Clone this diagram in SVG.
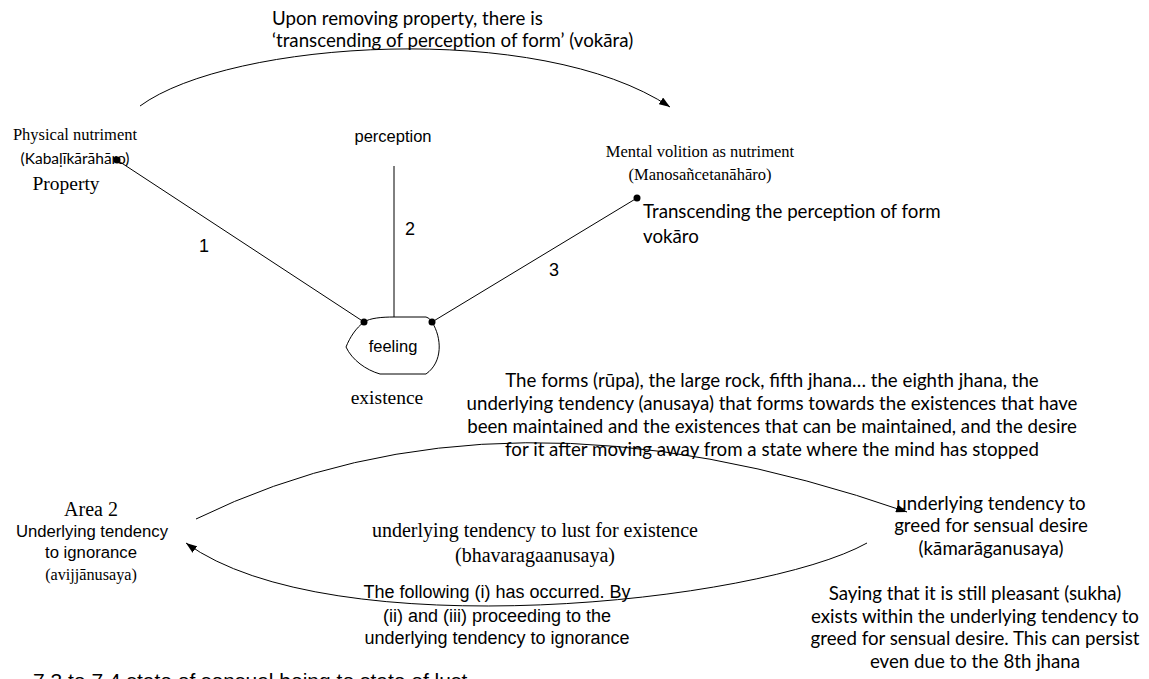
<svg xmlns="http://www.w3.org/2000/svg" width="1149" height="679" viewBox="0 0 1149 679">
<style>
.serif{font-family:"Liberation Serif","Times New Roman",serif;fill:#000}
.sans{font-family:"Liberation Sans",Arial,sans-serif;fill:#000}
.cal{font-family:Lato,"Open Sans",sans-serif;fill:#000;font-size:18.7px}
.line{stroke:#000;stroke-width:1;fill:none}
.dot{fill:#000}
</style>
<defs>
<marker id="arr" markerUnits="userSpaceOnUse" markerWidth="11" markerHeight="8" refX="11" refY="4" orient="auto">
<path d="M0,0 L11,4 L0,8 z" fill="#000"/>
</marker>
</defs>
<rect width="1149" height="679" fill="#fff"/>

<g id="connectors">
<path class="line" d="M140,106 C230,40 540,20 670,107" marker-end="url(#arr)"/>
<line class="line" x1="117" y1="160" x2="364" y2="322"/>
<line class="line" x1="394" y1="166" x2="394" y2="317"/>
<line class="line" x1="637" y1="198" x2="432" y2="322"/>
<path class="line" d="M196,519 Q500,370 907,512" marker-end="url(#arr)"/>
<path class="line" d="M867,543 C760,603 330,648 186,543" marker-end="url(#arr)"/>
<circle class="dot" cx="117" cy="160" r="3.5"/>
<circle class="dot" cx="637" cy="198" r="3.5"/>
<circle class="dot" cx="364" cy="322" r="3.5"/>
<circle class="dot" cx="432" cy="322" r="3.5"/>
<text class="sans" x="204" y="252" font-size="18" text-anchor="middle">1</text>
<text class="sans" x="410" y="235" font-size="18" text-anchor="middle">2</text>
<text class="sans" x="554" y="276" font-size="18" text-anchor="middle">3</text>
</g>

<g id="top-label">
<text class="cal" x="272" y="25">Upon removing  property, there is</text>
<text class="cal" x="272" y="47">‘transcending of perception of form’ (vokāra)</text>
</g>

<g id="physical">
<text class="serif" x="75" y="140" font-size="16.5" text-anchor="middle">Physical nutriment</text>
<text class="cal" x="75" y="164" style="font-size:15.5px" text-anchor="middle">(Kabaḷīkārāhāro)</text>
<text class="serif" x="66" y="190" font-size="19.5" text-anchor="middle">Property</text>
</g>

<g id="perception">
<text class="sans" x="393" y="142" font-size="16.5" text-anchor="middle">perception</text>
</g>

<g id="mental">
<text class="serif" x="700" y="157" font-size="16.5" text-anchor="middle">Mental volition as nutriment</text>
<text class="serif" x="700" y="180" font-size="16.5" text-anchor="middle">(Manosañcetanāhāro)</text>
<text class="cal" x="643" y="218">Transcending the perception of form</text>
<text class="cal" x="643" y="243">vokāro</text>
</g>

<g id="feeling">
<path class="line" d="M364,322 C370,318 382,317 394,317 L426,317 C429,318 431,320 432,322 C442,338 443,362 426,374 L380,374 C366,370 352,360 346,347 C350,337 356,328 364,322 Z"/>
<text class="sans" x="393" y="352" font-size="16.5" text-anchor="middle">feeling</text>
<text class="serif" x="387" y="404" font-size="19.5" text-anchor="middle">existence</text>
</g>

<g id="paragraph">
<text class="cal" x="772" y="387" text-anchor="middle">The forms (rūpa), the large rock, fifth jhana… the eighth jhana, the</text>
<text class="cal" x="772" y="410" text-anchor="middle">underlying tendency (anusaya) that forms towards the existences that have</text>
<text class="cal" x="772" y="433" text-anchor="middle">been maintained and the existences that can be maintained, and the desire</text>
<text class="cal" x="772" y="456" text-anchor="middle">for it after moving away from a state where the mind has stopped</text>
</g>

<g id="area2">
<text class="serif" x="91" y="516" font-size="20" text-anchor="middle">Area 2</text>
<text class="sans" x="92" y="537" font-size="16.7" text-anchor="middle">Underlying tendency</text>
<text class="sans" x="91" y="558" font-size="16.7" text-anchor="middle">to ignorance</text>
<text class="serif" x="91" y="580" font-size="16.2" text-anchor="middle">(avijjānusaya)</text>
</g>

<g id="kama">
<text class="cal" x="991" y="510" text-anchor="middle">underlying tendency to</text>
<text class="cal" x="991" y="532" text-anchor="middle">greed for sensual desire</text>
<text class="cal" x="991" y="555" text-anchor="middle">(kāmarāganusaya)</text>
<text class="cal" x="975" y="600" text-anchor="middle">Saying that it is still pleasant (sukha)</text>
<text class="cal" x="975" y="623" text-anchor="middle">exists within the underlying tendency to</text>
<text class="cal" x="975" y="645" text-anchor="middle">greed for sensual desire. This can persist</text>
<text class="cal" x="975" y="668" text-anchor="middle">even due to the 8th jhana</text>
</g>

<g id="bhava">
<text class="serif" x="535" y="537" font-size="20" text-anchor="middle">underlying tendency to lust for existence</text>
<text class="serif" x="535" y="562" font-size="20" text-anchor="middle">(bhavaragaanusaya)</text>
</g>

<g id="following">
<text class="sans" x="497" y="598" font-size="18" text-anchor="middle">The following (i) has occurred. By</text>
<text class="sans" x="497" y="622" font-size="18" text-anchor="middle">(ii) and (iii) proceeding to the</text>
<text class="sans" x="497" y="644" font-size="18" text-anchor="middle">underlying tendency to ignorance</text>
</g>

<g id="caption">
<text class="sans" x="33" y="688" font-size="21">7.3 to 7.4 state of sensual being to state of lust</text>
</g>
</svg>
